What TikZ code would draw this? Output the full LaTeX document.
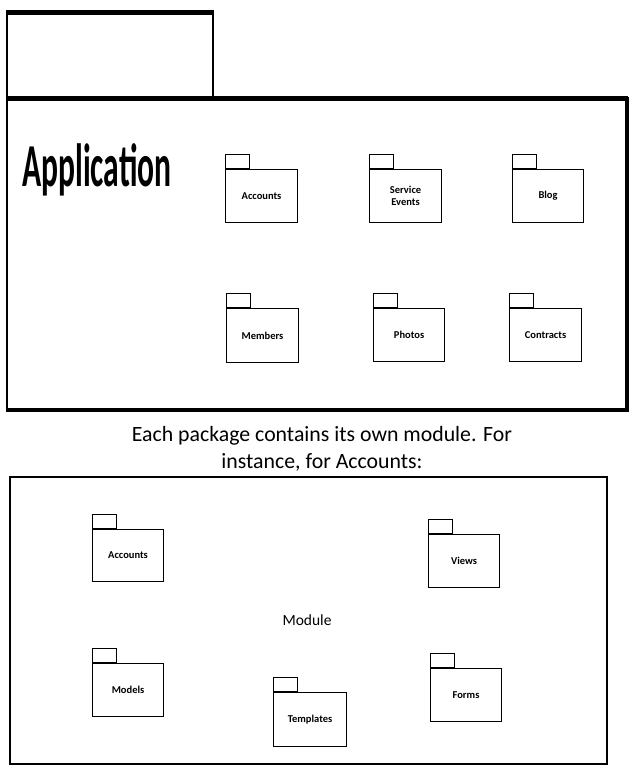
\documentclass[tikz,border=0pt]{standalone}
\usepackage{fontspec}
\setmainfont{Carlito}
\usepackage{graphicx}
\tikzset{
  pkgbody/.style={draw, line width=1.1pt, inner sep=1pt, align=center,
    font=\fontsize{10.5}{12}\selectfont\bfseries},
  pkgtab/.style={draw, line width=1.1pt, inner sep=0pt, minimum width=24pt, minimum height=14pt},
  thinframe/.style={line width=2pt},
  thickframe/.style={line width=4.5pt},
}
\newcommand{\pkgnode}[6]{%
  \node[pkgbody, minimum width=#4pt, minimum height=#5pt, anchor=north west] (#1) at (#2,#3) {#6};
  \node[pkgtab, anchor=south west] (#1-tab) at (#1.north west) {};
}
\begin{document}
\begin{tikzpicture}[x=1pt, y=-1pt]
\useasboundingbox (0,0) rectangle (633,765);
% big application frame
\draw[thinframe] (7,12) -- (7,410);
\draw[thinframe] (213,12) -- (213,98);
\draw[thickframe] (6,12.5) -- (214,12.5);
\draw[thickframe] (6,98.5) -- (628,98.5);
\draw[line width=4pt] (627,97) -- (627,412);
\draw[thickframe] (6,410) -- (629,410);
\node[anchor=base west, inner sep=0pt] (app) at (22,186)
  {\scalebox{0.518}[1]{\fontsize{61}{61}\selectfont\bfseries Application}};
% packages of the application
\pkgnode{acc}{225}{169}{72}{53}{Accounts}
\pkgnode{svc}{369}{169}{72}{53}{Service\\Events}
\pkgnode{blog}{512}{169}{71}{53}{Blog}
\pkgnode{mem}{226}{308}{72}{54}{Members}
\pkgnode{pho}{373}{308}{71}{53}{Photos}
\pkgnode{con}{509}{308}{72}{53}{Contracts}
% caption
\node[align=center, font=\fontsize{21.8}{26.5}\selectfont] (cap) at (322,449)
  {Each package contains its own module. For\\instance, for Accounts:};
% module frame
\draw[line width=1.3pt] (10,477) rectangle (607,764);
\node[font=\fontsize{15.5}{18}\selectfont] (mod) at (307,620) {Module};
\pkgnode{macc}{92}{529}{71}{52}{Accounts}
\pkgnode{views}{428}{534}{71}{53}{Views}
\pkgnode{models}{92}{663}{71}{53}{Models}
\pkgnode{tmpl}{273}{692}{73}{54}{Templates}
\pkgnode{forms}{430}{668}{71}{53}{Forms}
\end{tikzpicture}
\end{document}
